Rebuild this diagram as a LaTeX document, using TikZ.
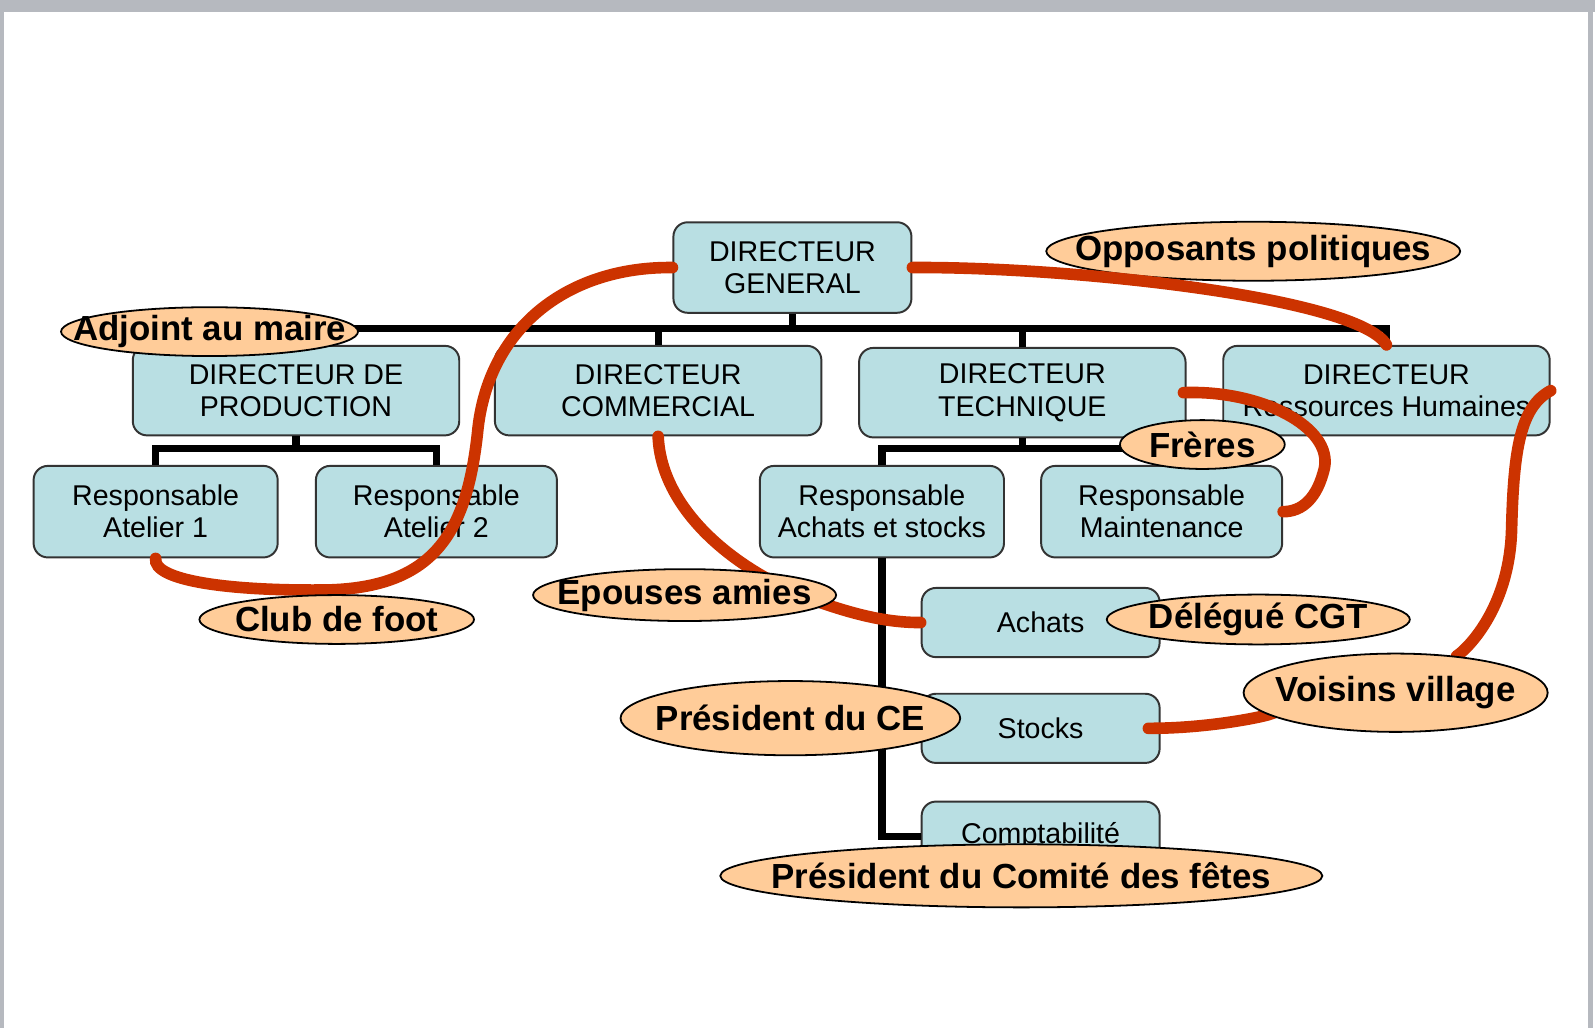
\documentclass[tikz,border=0pt]{standalone}
\usepackage{fontspec}
\setmainfont{Liberation Sans}
\usetikzlibrary{shapes.geometric, positioning}
\definecolor{boxblue}{RGB}{185,223,227}
\definecolor{tagorange}{RGB}{255,204,153}
\definecolor{linkred}{RGB}{204,51,0}
\definecolor{framegray}{RGB}{182,185,191}
\pgfdeclarelayer{front}
\pgfsetlayers{main,front}
\tikzset{%
  % Specifications for style of nodes:
            poste/.style = {rectangle, rounded corners=0.28cm, draw=black!80,
                            line width=1.1pt, fill=boxblue, align=center,
                            minimum width=6.42cm, minimum height=1.76cm,
                            inner sep=0pt, font=\fontsize{16}{18}\selectfont},
            service/.style = {poste, minimum width=4.8cm, minimum height=1.8cm},
            sousservice/.style = {poste, minimum width=4.68cm, minimum height=1.36cm},
            role/.style = {ellipse, draw=black, line width=1pt, fill=tagorange,
                            inner sep=0pt, font=\bfseries\fontsize{19.5}{22}\selectfont},
            lien/.style = {draw=linkred, line width=6.5pt, line cap=round},
            ligne/.style = {draw=black, line width=4pt}
}

\begin{document}
\begin{tikzpicture}[x=0.02cm, y=-0.02cm]
                \useasboundingbox (0,0) rectangle (1568,1011);
                \fill[framegray] (0,0) rectangle (1568,12);
                \fill[framegray] (0,0) rectangle (4,1011);
                \fill[framegray] (1561,0) rectangle (1566,1011);

                % organigramme
                \node[poste, minimum width=4.68cm, minimum height=1.78cm] (dg) at (779,263) {DIRECTEUR\\GENERAL};
                \node[poste] (dprod) at (291,384) {DIRECTEUR DE\\PRODUCTION};
                \node[poste] (dcom) at (647,384) {DIRECTEUR\\COMMERCIAL};
                \node[poste] (dtech) at (1005,386) {DIRECTEUR\\TECHNIQUE};
                \node[poste] (drh) at (1363,384) {DIRECTEUR\\Ressources Humaines};
                \node[service] (at1) at (153,503) {Responsable\\Atelier 1};
                \node[service, minimum width=4.74cm] (at2) at (429,503) {Responsable\\Atelier 2};
                \node[service] (achst) at (867,503) {Responsable\\Achats et stocks};
                \node[service, minimum width=4.74cm] (maint) at (1142,503) {Responsable\\Maintenance};
                \node[sousservice] (ach) at (1023,612) {Achats};
                \node[sousservice] (stk) at (1023,716) {Stocks};
                \node[sousservice] (cpt) at (1023,822) {Comptabilité};

                \coordinate (bus) at (779,323);
                \draw[ligne] (dg.south) -- (bus);
                \draw[ligne] (dprod.north) |- (bus) -| (drh.north);
                \draw[ligne] (dcom.north) -- (dcom.north |- bus);
                \draw[ligne] (dtech.north) -- (dtech.north |- bus);

                \coordinate (bprod) at (291,441);
                \draw[ligne] (dprod.south) -- (bprod);
                \draw[ligne] (at1.north) |- (bprod) -| (at2.north);

                \coordinate (btech) at (1005,441);
                \draw[ligne] (dtech.south) -- (btech);
                \draw[ligne] (achst.north) |- (btech) -| (maint.north);

                \draw[ligne] (achst.south) |- (cpt.west);
                \draw[ligne] (ach.west) -- (ach.west -| achst.south);
                \draw[ligne] (stk.west) -- (stk.west -| achst.south);

                % reseaux informels
                \node[role, minimum width=8.14cm, minimum height=1.16cm] (opp) at (1232,247) {\makebox[0pt]{Opposants politiques}};
                \begin{pgfonlayer}{front}
                \node[role, minimum width=5.84cm, minimum height=0.96cm] (adj) at (206,326) {\makebox[0pt]{Adjoint au maire}};
                \node[role, minimum width=3.24cm, minimum height=0.96cm] (freres) at (1182,437) {\makebox[0pt]{Frères}};
                \node[role, minimum width=5.4cm, minimum height=0.96cm] (club) at (331,609) {\makebox[0pt]{Club de foot}};
                \node[role, minimum width=5.96cm, minimum height=1.02cm] (epouses) at (673,585) {\makebox[0pt]{Epouses amies}};
                \node[role, minimum width=5.96cm, minimum height=0.98cm] (cgt) at (1237,609) {\makebox[0pt]{Délégué CGT}};
                \node[role, minimum width=6.68cm, minimum height=1.46cm] (ce) at (777,706) {\makebox[0pt]{Président du CE}};
                \node[role, minimum width=5.98cm, minimum height=1.54cm] (vois) at (1372,681) {\makebox[0pt]{Voisins village}};
                \node[role, minimum width=11.84cm, minimum height=1.24cm] (fetes) at (1004,861) {\makebox[0pt]{Président du Comité des fêtes}};
                \end{pgfonlayer}

                \draw[lien] (dg.west) .. controls (560,262) and (482,320) .. (470,420)
                    .. controls (460,520) and (430,578) .. (320,580)
                    .. controls (220,581) and (150,570) .. (at1.south);
                \draw[lien] (dg.east) .. controls (1050,262) and (1335,292) .. (drh.north);
                \draw[lien] ([xshift=-0.06cm]dtech.east) .. controls (1240,383) and (1310,420) .. (1302,460)
                    .. controls (1295,490) and (1280,503) .. (maint.east);
                \draw[lien] (dcom.south) .. controls (650,500) and (720,560) .. (800,590)
                    .. controls (850,608) and (880,612) .. (ach.west);
                \draw[lien] (drh.east) .. controls (1495,400) and (1488,440) .. (1486,520)
                    .. controls (1484,600) and (1440,640) .. (vois);
                \draw[lien] ([xshift=-0.24cm]stk.east) .. controls (1200,716) and (1260,700) .. (vois);

            \end{tikzpicture}
\end{document}
